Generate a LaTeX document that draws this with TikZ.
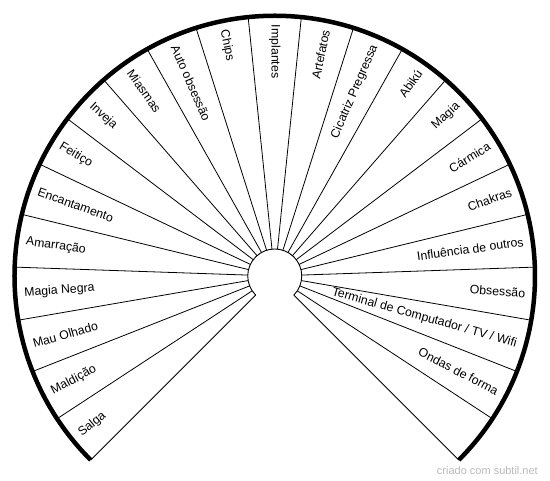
\documentclass[tikz,border=0pt]{standalone}
\usepackage{fontspec}
\setmainfont{Liberation Sans}

\begin{document}
\begin{tikzpicture}[
  x=1pt, y=1pt,
  font=\fontsize{12.3}{14}\selectfont,
  spoke/.style={draw=black, line width=0.8pt},
  hub/.style={draw=black, line width=0.9pt},
  rim/.style={draw=black, line width=4.5pt},
  lbl/.style={inner sep=0pt, outer sep=0pt},
  credit/.style={inner sep=0pt, text=gray!55, font=\fontsize{11}{13}\selectfont}]
\useasboundingbox (-274.75,-205) rectangle (275.25,276);
\def\rin{27}
\def\rout{260.25}
\def\rtxt{251}
\def\wedge{11.73913}
% spokes between the sectors
\foreach \k in {0,...,23} {
  \pgfmathsetmacro\ang{225-\k*\wedge}
  \draw[spoke] (\ang:\rin) -- (\ang:\rout);
}
\draw[hub] (225:\rin) arc[start angle=225, end angle=-45, radius=\rin];
\draw[rim] (225:\rout) arc[start angle=225, end angle=-45, radius=\rout];
% left half: read inward
\foreach \txt [count=\k] in {Salga, Maldição, Mau Olhado, Magia Negra, Amarração,
    Encantamento, Feitiço, Inveja, Miasmas, Auto obsessão, Chips, Implantes} {
  \pgfmathsetmacro\ang{225-(\k-0.5)*\wedge}
  \node[lbl, anchor=west, rotate=\ang-180] (lbl-\k) at (\ang:\rtxt) {\txt};
}
% right half: read outward
\foreach \txt [count=\k from 13] in {Artefatos, Cicatriz Pregressa, Abikú, Magia, Cármica,
    Chakras, Influência de outros, Obsessão, Terminal de Computador / TV / Wifi, Ondas de forma} {
  \pgfmathsetmacro\ang{225-(\k-0.5)*\wedge}
  \node[lbl, anchor=east, rotate=\ang] (lbl-\k) at (\ang:\rtxt) {\txt};
}
\node[credit, anchor=base east] (site) at (263.25,-199) {criado com subtil.net};
\end{tikzpicture}
\end{document}
